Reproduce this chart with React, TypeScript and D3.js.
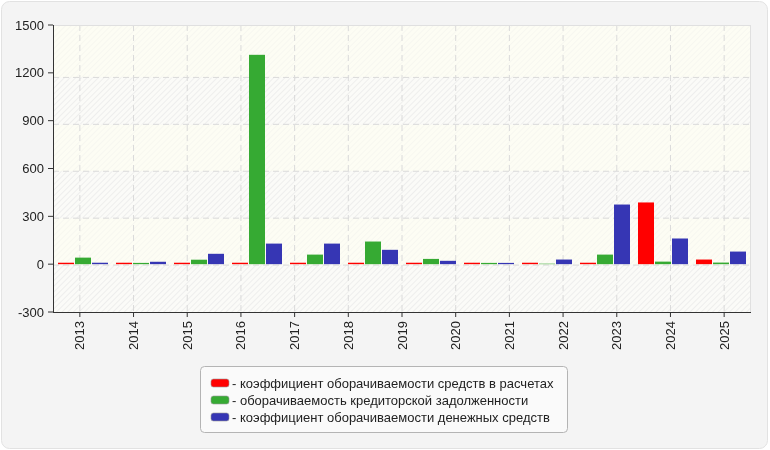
import React from "react";
import * as d3 from "d3";

const years = ["2013","2014","2015","2016","2017","2018","2019","2020","2021","2022","2023","2024","2025"];
const seriesNames = [
  "- коэффициент оборачиваемости средств в расчетах",
  "- оборачиваемость кредиторской задолженности",
  "- коэффициент оборачиваемости денежных средств",
];
const seriesColors = ["#ff0000", "#36aa33", "#3636b4"];
const redValues = [9, 9, 9, 9, 9, 9, 9, 9, 9, 9, 387, 29];
const greenValues = [41, 8, 28, 1313, 60, 142, 33, 8, 3, 60, 16, 10];
const blueValues = [9, 15, 65, 129, 129, 90, 21, 8, 29, 374, 161, 79];
const yTicks = [-300, 0, 300, 600, 900, 1200, 1500];

const W = 770, H = 450;
const L = 53, R = 751, T = 25, B = 312;

export default function App() {
  const series = [redValues, greenValues, blueValues];
  const y = d3.scaleLinear().domain([-300, 1500]).range([B, T]);
  const yGrid = d3.scaleLinear().domain([-300, 1500]).range([B, T + 5.5]);
  const xTick = d3.scaleBand<string>().domain(years).range([L, R]);
  const groups = d3.range(redValues.length);
  const xGroup = d3.scaleBand<number>().domain(groups).range([L, L + 58 * groups.length]);
  const xInner = d3.scaleBand<number>().domain([0, 1, 2]).range([0, 50]).paddingInner(1 / 17);
  const font = "Arial, 'Liberation Sans', sans-serif";
  const bands = yTicks.slice(0, -1).map((v, i) => ({ v0: v, v1: yTicks[i + 1], hatched: i % 2 === 0 }));

  return (
    <div style={{ position: "fixed", left: 0, top: 0 }}>
      <svg width={W} height={H} style={{ display: "block", fontFamily: font }}>
        <defs>
          <pattern id="hatch" width="4" height="4" patternUnits="userSpaceOnUse" patternTransform="rotate(45)">
            <rect width="4" height="4" fill="#fbfbf8" />
            <line x1="0" y1="0" x2="0" y2="4" stroke="#e6e6e6" strokeWidth="1.2" />
          </pattern>
          <pattern id="hatchLight" width="4" height="4" patternUnits="userSpaceOnUse" patternTransform="rotate(45)">
            <rect width="4" height="4" fill="#fdfdf4" />
            <line x1="0" y1="0" x2="0" y2="4" stroke="#f2f2ec" strokeWidth="1" />
          </pattern>
        </defs>
        <rect x={1.5} y={1.5} width={W - 4} height={H - 3} rx={8} fill="#f4f4f4" stroke="#e2e2e2" />
        {bands.map((b, i) => (
          <rect key={i} x={L} width={R - L}
            y={i === bands.length - 1 ? T : yGrid(b.v1)}
            height={(i === 0 ? B : yGrid(b.v0)) - (i === bands.length - 1 ? T : yGrid(b.v1))}
            fill={b.hatched ? "url(#hatch)" : "url(#hatchLight)"} />
        ))}
        {yTicks.slice(1, -1).map((v) => (
          <line key={v} x1={L} x2={R} y1={yGrid(v)} y2={yGrid(v)} stroke="#dadada" strokeDasharray="6,4" />
        ))}
        {years.map((yr) => {
          const cx = (xTick(yr) as number) + xTick.bandwidth() / 2;
          return <line key={yr} x1={cx} x2={cx} y1={T} y2={B} stroke="#dadada" strokeDasharray="6,4" />;
        })}
        <line x1={L} x2={R} y1={T + 0.5} y2={T + 0.5} stroke="#e0e0e0" />
        <line x1={R - 0.5} x2={R - 0.5} y1={T} y2={B} stroke="#e0e0e0" />
        {series.map((vals, si) =>
          vals.map((v, k) => {
            const x = (xGroup(k) as number) + 5 + (xInner(si) as number);
            return (
              <rect key={`${si}-${k}`} x={x} width={xInner.bandwidth()}
                y={Math.min(y(v), y(0))} height={Math.abs(y(v) - y(0))} fill={seriesColors[si]} />
            );
          })
        )}
        <line x1={L + 0.5} x2={L + 0.5} y1={T} y2={B + 0.5} stroke="#333" />
        <line x1={L} x2={R} y1={B + 0.5} y2={B + 0.5} stroke="#333" />
        {yTicks.map((v) => (
          <g key={v}>
            <line x1={L - 5} x2={L} y1={y(v)} y2={y(v)} stroke="#333" />
            <text x={L - 9} y={y(v)} dy="0.35em" textAnchor="end" fontSize={13} fill="#222">{v}</text>
          </g>
        ))}
        {years.map((yr) => {
          const cx = (xTick(yr) as number) + xTick.bandwidth() / 2;
          return (
            <g key={yr}>
              <line x1={cx} x2={cx} y1={B} y2={B + 5} stroke="#333" />
              <text transform={`translate(${cx},${B + 9}) rotate(-90)`} dy="0.35em" textAnchor="end" fontSize={13} fill="#222">{yr}</text>
            </g>
          );
        })}
        <rect x={200.5} y={366.5} width={367} height={66} rx={4} fill="#fafafa" stroke="#b4b4b4" />
        {seriesNames.map((name, i) => (
          <g key={i} transform={`translate(211, ${383 + i * 17})`}>
            <rect x={0} y={-4} width={18} height={8} rx={2.5} fill={seriesColors[i]} stroke="#999" strokeWidth={0.6} />
            <text x={21} y={0} dy="0.35em" fontSize={13} fill="#222">{name}</text>
          </g>
        ))}
      </svg>
    </div>
  );
}
